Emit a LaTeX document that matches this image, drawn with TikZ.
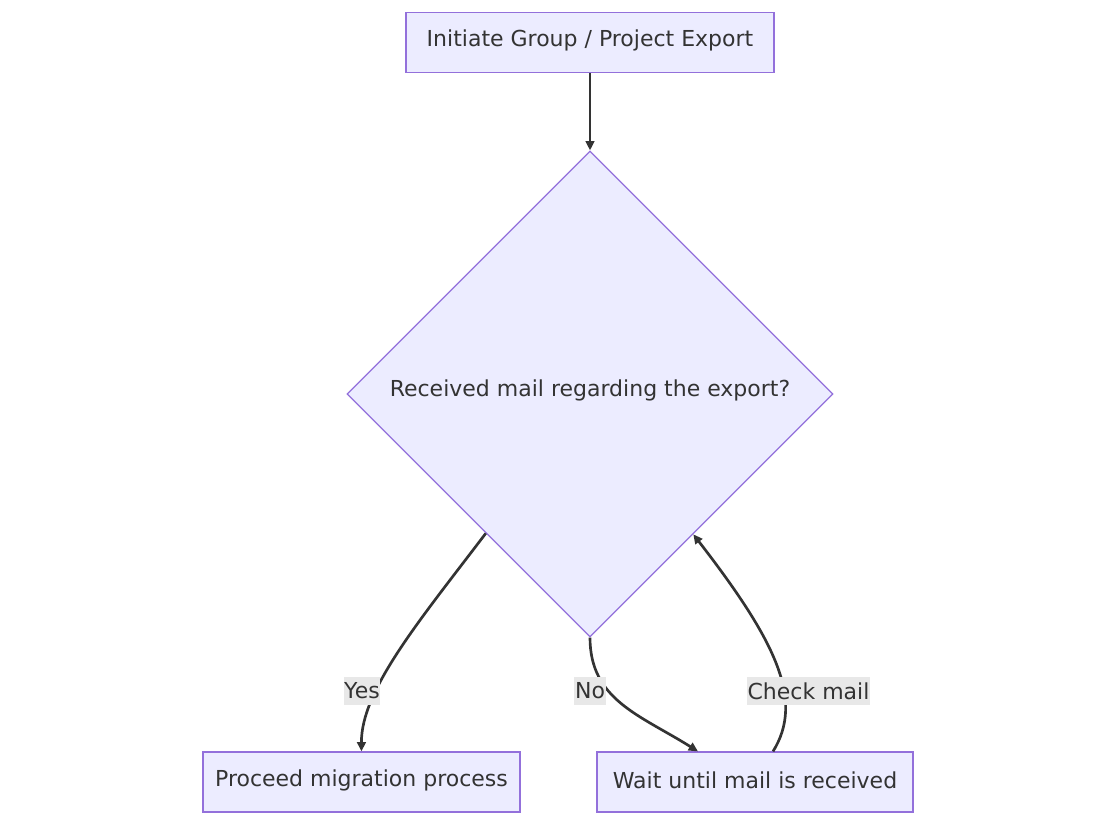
\documentclass[tikz,border=0pt]{standalone}
\usepackage{fontspec}
\setmainfont{DejaVu Sans}
\usetikzlibrary{shapes.geometric,arrows.meta,calc}
\definecolor{nodefill}{HTML}{ECECFF}
\definecolor{nodeline}{HTML}{9370DB}
\definecolor{edgecol}{HTML}{333333}
\definecolor{txtcol}{HTML}{333333}
\definecolor{lblfill}{HTML}{E8E8E8}
\begin{document}
\begin{tikzpicture}[x=0.75pt,y=-0.75pt,
  every node/.style={font=\fontsize{16.5}{20}\selectfont, text=txtcol},
  procbox/.style={draw=nodeline, fill=nodefill, line width=0.9pt, rectangle, minimum height=45pt, inner sep=0pt},
  decbox/.style={draw=nodeline, fill=nodefill, line width=0.9pt, diamond, aspect=1, minimum width=364.5pt, minimum height=364.5pt, inner sep=0pt},
  edge/.style={draw=edgecol, line width=2pt, -{Triangle[length=7pt,width=6.5pt]}},
  lbl/.style={fill=lblfill, inner xsep=0.5pt, inner ysep=0pt, minimum height=21pt}
]
\useasboundingbox (0,0) rectangle (1116,825);
\node[procbox, minimum width=276pt] (start) at (590,42.5) {};
\node (starttext) at (590,40.5) {Initiate Group / Project Export};
\node[decbox] (dec) at (590,394) {};
\node (dectext) at (590,390) {Received mail regarding the export?};
\node[procbox, minimum width=237.75pt] (yesbox) at (361.5,782) {};
\node (yestext) at (361.5,780) {Proceed migration process};
\node[procbox, minimum width=237pt] (waitbox) at (755,782) {};
\node (waittext) at (755,780) {Wait until mail is received};

\draw[edge] (start.south) -- (dec.north);
\draw[edge] ($(dec.west)!0.572!(dec.south)$) .. controls (420,620) and (361,690) .. (yesbox.north);
\draw[edge] (dec.south) .. controls (590,700) and (640,715) .. ([xshift=-42.75pt]waitbox.north);
\draw[edge] ([xshift=13.5pt]waitbox.north) .. controls (805,700) and (775,640) .. ($(dec.east)!0.576!(dec.south)$);

\node[lbl] (lyes) at (362,691) {Yes};
\node[lbl] (lno) at (590,691) {No};
\node[lbl] (lcheck) at (808.5,691) {Check mail};
\end{tikzpicture}
\end{document}
